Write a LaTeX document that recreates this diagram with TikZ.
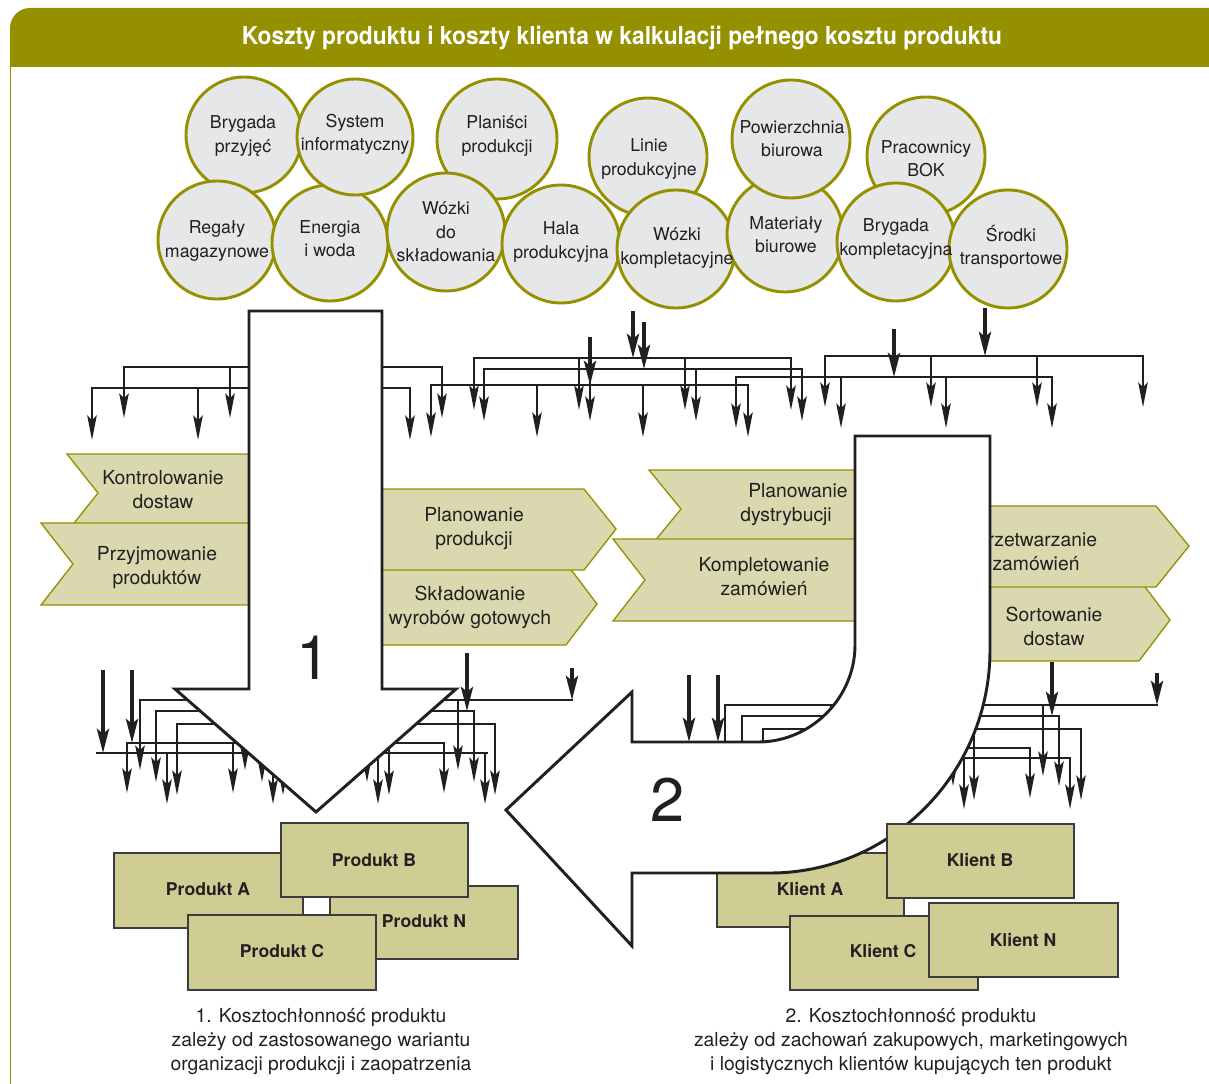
\documentclass[tikz,border=0pt]{standalone}
\usepackage{fontspec}
\usepackage{graphicx}
\setmainfont{TeX Gyre Heros}
\usetikzlibrary{arrows.meta}
\definecolor{olivec}{RGB}{149,144,0}
\definecolor{circfill}{RGB}{230,231,232}
\definecolor{procfill}{RGB}{217,216,174}
\definecolor{boxfill}{RGB}{208,205,148}
\definecolor{ink}{RGB}{35,31,32}
\definecolor{boxline}{RGB}{60,60,60}
\newcommand{\NetLine}[5]{%
  \draw[thinln,line cap=rect] (#2,#1) -- (#3,#1);
  \foreach \dx in {#5} {\draw[tarr] (\dx,#1) -- (\dx,#4);}}
\begin{document}
\begin{tikzpicture}[x=0.75pt,y=-0.75pt,
  res/.style={fill=circfill,draw=olivec,line width=2.2pt},
  ctext/.style={align=center,text=ink,font=\fontsize{13.3}{17.5}\selectfont,inner sep=0pt},
  proc/.style={fill=procfill,draw=olivec,line width=1pt,line join=miter},
  ptext/.style={align=center,text=ink,font=\fontsize{14.5}{18}\selectfont,inner sep=0pt},
  obox/.style={fill=boxfill,draw=boxline,line width=1.5pt},
  otext/.style={text=ink,font=\fontsize{13.2}{16}\selectfont\bfseries,inner sep=0pt},
  thinln/.style={draw=ink,line width=1pt},
  tarr/.style={thinln,-{Stealth[length=18.5pt,width=7.2pt,inset=3.5pt]}},
  tharr/.style={draw=ink,line width=2.8pt,-{Stealth[length=18pt,width=9pt,inset=3.5pt]}},
  bigarr/.style={fill=white,draw=ink,line width=2.2pt,line join=miter},
  captxt/.style={align=center,text=ink,font=\fontsize{14.5}{18}\selectfont,inner sep=0pt},
  bignum/.style={text=ink,font=\fontsize{46}{46}\selectfont,inner sep=0pt},
]
\useasboundingbox (0,0) rectangle (1209,1084);
% header
\fill[olivec] (1209,67) -- (10,67) [rounded corners=15pt] -- (10,8) [sharp corners] -- (1209,8) -- cycle;
\draw[olivec,line width=1.2pt] (10.5,67) -- (10.5,1084);
\node[text=white,inner sep=0pt,anchor=base] (title) at (622,45)
  {\resizebox{570pt}{\height}{\fontsize{18.5}{18}\selectfont\bfseries Koszty produktu i koszty klienta w kalkulacji pełnego kosztu produktu}};

% resources
\path[res] (244,135) circle[radius=58];
\path[res] (217,240) circle[radius=59];
\path[res] (330,243) circle[radius=58];
\path[res] (355,137) circle[radius=58];
\path[res] (497,139) circle[radius=60];
\path[res] (446,232) circle[radius=59];
\path[res] (561,244) circle[radius=59];
\path[res] (648,157) circle[radius=59];
\path[res] (676,249) circle[radius=59];
\path[res] (785,234) circle[radius=58];
\path[res] (791,139) circle[radius=59];
\path[res] (926,156) circle[radius=59];
\path[res] (896,242) circle[radius=59];
\path[res] (1008,249) circle[radius=59];
\node[ctext] (c1) at (243,136) {Brygada\\przyjęć};
\node[ctext] (c2) at (217,241) {Regały\\magazynowe};
\node[ctext] (c3) at (330,239) {Energia\\i woda};
\node[ctext] (c4) at (355,134) {System\\informatyczny};
\node[ctext] (c5) at (497,136) {Planiści\\produkcji};
\node[ctext] (c6) at (446,232) {Wózki\\do\\składowania};
\node[ctext] (c7) at (561,242) {Hala\\produkcyjna};
\node[ctext] (c8) at (649,159) {Linie\\produkcyjne};
\node[ctext] (c9) at (677,248) {Wózki\\kompletacyjne};
\node[ctext] (c10) at (786,235) {Materiały\\biurowe};
\node[ctext] (c11) at (792,139) {Powierzchnia\\biurowa};
\node[ctext] (c12) at (926,159) {Pracownicy\\BOK};
\node[ctext] (c13) at (896,239) {Brygada\\kompletacyjna};
\node[ctext] (c14) at (1011,247) {Środki\\transportowe};

% process boxes
\draw[proc] (67,454) -- (270,454) -- (270,532) -- (67,532) -- (98,493) -- cycle;
\draw[proc] (41,523) -- (270,523) -- (270,605) -- (41,605) -- (73,564) -- cycle;
\draw[proc] (360,563) -- (566,563) -- (597,604) -- (566,645) -- (360,645) -- cycle;
\draw[proc] (360,489) -- (584,489) -- (616,529) -- (584,570) -- (360,570) -- cycle;
\draw[proc] (649,470) -- (875,470) -- (875,548) -- (649,548) -- (681,509) -- cycle;
\draw[proc] (613,539) -- (875,539) -- (875,621) -- (613,621) -- (645,580) -- cycle;
\draw[proc] (965,579) -- (1139,579) -- (1170,620) -- (1139,661) -- (965,661) -- cycle;
\draw[proc] (965,506) -- (1156,506) -- (1189,546) -- (1156,587) -- (965,587) -- cycle;
\node[ptext] (p1) at (163,490) {Kontrolowanie\\dostaw};
\node[ptext] (p2) at (157,568) {Przyjmowanie\\produktów};
\node[ptext] (p3) at (474,529) {Planowanie\\produkcji};
\node[ptext] (p4) at (470,607) {Składowanie\\wyrobów gotowych};
\node[ptext] (p5) at (786,505) {\hspace*{18pt}Planowanie\\dystrybucji};
\node[ptext] (p6) at (764,577) {Kompletowanie\\zamówień};
\node[ptext] (p7) at (1036,552) {Przetwarzanie\\zamówień};
\node[ptext] (p8) at (1054,626) {Sortowanie\\dostaw};

% top network
\NetLine{367}{124}{442}{418}{124,230,336,442}
\NetLine{388}{92}{410}{440}{92,198,304,410}
\NetLine{358}{474}{791}{410}{474,579,685,791}
\NetLine{369}{484}{802}{421}{484,590,696,802}
\NetLine{385}{431}{748}{437}{431,537,643,748}
\NetLine{377}{736}{1052}{428}{736,841,946,1052}
\NetLine{356}{825}{1143}{407}{825,931,1037,1143}
\draw[tharr] (590,337) -- (590,385);
\draw[tharr] (633,311) -- (633,358);
\draw[tharr] (644,322) -- (644,369);
\draw[tharr] (894,329) -- (894,377);
\draw[tharr] (985,308) -- (985,356);

% bottom-left network
\NetLine{700}{140}{572}{770}{140,245,351,458}
\NetLine{711}{156}{474}{782}{156,262,367,474}
\NetLine{724}{177}{495}{795}{177,283,389,495}
\NetLine{743}{127}{444}{793}{127,233,338,444}
\NetLine{753}{97}{487}{804}{167,273,378,485}
\draw[tharr] (103,670) -- (103,753);
\draw[tharr] (132,670) -- (132,743);
\draw[tharr] (467,653) -- (467,711);
\draw[tharr] (572,668) -- (572,700);

% bottom-right network
\NetLine{705}{725}{1157}{776}{725,831,937,1043}
\NetLine{716}{742}{1059}{786}{742,847,953,1059}
\NetLine{729}{763}{1081}{800}{763,868,974,1081}
\NetLine{748}{689}{1030}{798}{712,818,924,1030}
\NetLine{758}{689}{1070}{809}{752,858,964,1070}
\draw[tharr] (689,675) -- (689,742);
\draw[tharr] (718,675) -- (718,742);
\draw[tharr] (1052,662) -- (1052,716);
\draw[tharr] (1157,673) -- (1157,705);

% Klient A (under arrow 2)
\draw[obox] (717,853) rectangle (904,927);
\node[otext] (kA) at (810,889) {Klient A};

% big arrows
\draw[bigarr] (249,311) -- (382,311) -- (382,689) -- (456,689) -- (316,812) -- (175,689) -- (249,689) -- cycle;
\node[bignum] (n1) at (314,658) {1};
\draw[bigarr] (855,436) -- (990,436) -- (990,650) .. controls (990,773) and (891,873) .. (770,873)
  -- (632,873) -- (632,946) -- (506,810) -- (632,692) -- (632,742) -- (758,742)
  .. controls (811,742) and (855,698) .. (855,645) -- cycle;
\node[bignum] (n2) at (668,800) {2};

% products
\draw[obox] (114,853) rectangle (303,928);
\node[otext] (pA) at (208,889) {Produkt A};
\draw[obox] (330,886) rectangle (518,959);
\node[otext] (pN) at (424,921) {Produkt N};
\draw[obox] (281,823) rectangle (468,897);
\node[otext] (pB) at (374,860) {Produkt B};
\draw[obox] (188,915) rectangle (376,990);
\node[otext] (pC) at (282,951) {Produkt C};

% clients
\draw[obox] (887,824) rectangle (1074,898);
\node[otext] (kB) at (980,860) {Klient B};
\draw[obox] (790,916) rectangle (978,990);
\node[otext] (kC) at (883,951) {Klient C};
\draw[obox] (929,903) rectangle (1118,977);
\node[otext] (kN) at (1023,940) {Klient N};

% captions
\node[captxt] (cap1) at (321,1042) {1. Kosztochłonność produktu\\zależy od zastosowanego wariantu\\organizacji produkcji i zaopatrzenia};
\node[captxt] (cap2) at (911,1042) {2. Kosztochłonność produktu\\zależy od zachowań zakupowych, marketingowych\\i logistycznych klientów kupujących ten produkt};
\end{tikzpicture}
\end{document}
